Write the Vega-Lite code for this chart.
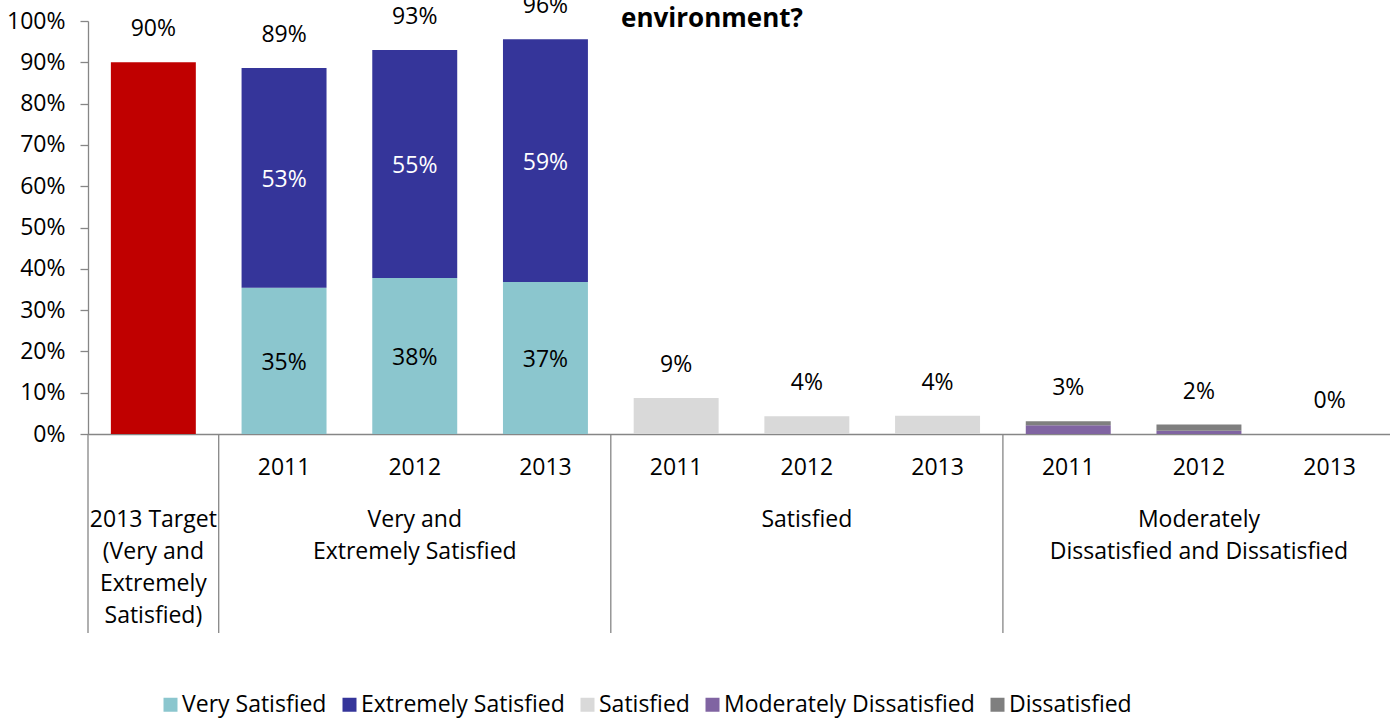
{
  "$schema": "https://vega.github.io/schema/vega-lite/v6.json",
  "autosize": {"type": "none"},
  "padding": {"left": 88, "top": 21, "right": 0, "bottom": 285},
  "width": 1302,
  "height": 413,
  "background": "white",
  "config": {"font": "Open Sans", "view": {"stroke": null}},
  "title": {"text": "environment?", "fontSize": 26, "fontWeight": "bold", "font": "Open Sans", "color": "#000000", "anchor": "middle", "frame": "group", "offset": 0, "baseline": "alphabetic", "dx": -27, "dy": 58},
  "datasets": {
    "bars": [
      {"cat": "Target", "series": "Target", "value": 0.90},
      {"cat": "Very and Extremely Satisfied|2011", "series": "Very Satisfied", "value": 0.354},
      {"cat": "Very and Extremely Satisfied|2011", "series": "Extremely Satisfied", "value": 0.532},
      {"cat": "Very and Extremely Satisfied|2012", "series": "Very Satisfied", "value": 0.378},
      {"cat": "Very and Extremely Satisfied|2012", "series": "Extremely Satisfied", "value": 0.552},
      {"cat": "Very and Extremely Satisfied|2013", "series": "Very Satisfied", "value": 0.368},
      {"cat": "Very and Extremely Satisfied|2013", "series": "Extremely Satisfied", "value": 0.588},
      {"cat": "Satisfied|2011", "series": "Satisfied", "value": 0.087},
      {"cat": "Satisfied|2012", "series": "Satisfied", "value": 0.043},
      {"cat": "Satisfied|2013", "series": "Satisfied", "value": 0.044},
      {"cat": "Moderately Dissatisfied and Dissatisfied|2011", "series": "Moderately Dissatisfied", "value": 0.021},
      {"cat": "Moderately Dissatisfied and Dissatisfied|2011", "series": "Dissatisfied", "value": 0.010},
      {"cat": "Moderately Dissatisfied and Dissatisfied|2012", "series": "Moderately Dissatisfied", "value": 0.008},
      {"cat": "Moderately Dissatisfied and Dissatisfied|2012", "series": "Dissatisfied", "value": 0.015},
      {"cat": "Moderately Dissatisfied and Dissatisfied|2013", "series": "Moderately Dissatisfied", "value": 0.0},
      {"cat": "Moderately Dissatisfied and Dissatisfied|2013", "series": "Dissatisfied", "value": 0.0}
    ],
    "groups": [
      {"cat": "Target", "label": "2013 Target\n(Very and\nExtremely\nSatisfied)"},
      {"cat": "Very and Extremely Satisfied|2012", "label": "Very and\nExtremely Satisfied"},
      {"cat": "Satisfied|2012", "label": "Satisfied"},
      {"cat": "Moderately Dissatisfied and Dissatisfied|2012", "label": "Moderately\nDissatisfied and Dissatisfied"}
    ],
    "seps": [
      {"cat": "Target"},
      {"cat": "Very and Extremely Satisfied|2011"},
      {"cat": "Satisfied|2011"},
      {"cat": "Moderately Dissatisfied and Dissatisfied|2011"}
    ]
  },
  "encoding": {
    "x": {
      "field": "cat", "type": "nominal",
      "scale": {
        "domain": ["Target", "Very and Extremely Satisfied|2011", "Very and Extremely Satisfied|2012", "Very and Extremely Satisfied|2013", "Satisfied|2011", "Satisfied|2012", "Satisfied|2013", "Moderately Dissatisfied and Dissatisfied|2011", "Moderately Dissatisfied and Dissatisfied|2012", "Moderately Dissatisfied and Dissatisfied|2013"],
        "range": [0, 1307], "paddingInner": 0.35, "paddingOuter": 0.175
      },
      "axis": {
        "title": null,
        "labelExpr": "indexof('' + datum.value, '|') >= 0 ? split('' + datum.value, '|')[1] : ''",
        "labelFontSize": 23, "labelFont": "Open Sans", "labelColor": "#000000", "labelAngle": 0,
        "labelPadding": 22, "ticks": false,
        "domainColor": "#868686", "domainWidth": 1.3
      }
    }
  },
  "layer": [
    {
      "data": {"name": "bars"},
      "transform": [{"calculate": "indexof(['Target','Very Satisfied','Extremely Satisfied','Satisfied','Moderately Dissatisfied','Dissatisfied'], datum.series)", "as": "ord"}],
      "mark": {"type": "bar"},
      "encoding": {
        "y": {
          "field": "value", "type": "quantitative", "stack": "zero",
          "scale": {"domain": [0, 1], "nice": false},
          "axis": {"title": null, "format": ".0%", "values": [0, 0.1, 0.2, 0.3, 0.4, 0.5, 0.6, 0.7, 0.8, 0.9, 1.0], "labelFontSize": 23, "labelFont": "Open Sans", "labelColor": "#000000", "labelPadding": 15, "tickSize": 8, "tickColor": "#868686", "tickWidth": 1.3, "domainColor": "#868686", "domainWidth": 1.3, "grid": false}
        },
        "color": {
          "field": "series", "type": "nominal",
          "scale": {"domain": ["Target", "Very Satisfied", "Extremely Satisfied", "Satisfied", "Moderately Dissatisfied", "Dissatisfied"], "range": ["#C00000", "#8BC6CE", "#35359A", "#D9D9D9", "#8064A2", "#7F7F7F"]},
          "legend": {"title": null, "orient": "none", "legendX": 71, "legendY": 672, "direction": "horizontal", "values": ["Very Satisfied", "Extremely Satisfied", "Satisfied", "Moderately Dissatisfied", "Dissatisfied"], "symbolType": "square", "symbolSize": 196, "symbolStrokeWidth": 0, "symbolOpacity": 1, "labelFontSize": 23, "labelFont": "Open Sans", "labelColor": "#000000", "columnPadding": 11, "labelOffset": 0, "labelLimit": 400}
        },
        "order": {"field": "ord"}
      }
    },
    {
      "data": {"name": "seps"},
      "mark": {"type": "rule", "color": "#868686", "strokeWidth": 1.3},
      "encoding": {
        "x": {"field": "cat", "type": "nominal", "bandPosition": -0.2692},
        "y": {"datum": 0, "type": "quantitative"},
        "y2": {"datum": -0.482}
      }
    },
    {
      "data": {"name": "bars"},
      "transform": [
        {"filter": "datum.series == 'Very Satisfied' || datum.series == 'Extremely Satisfied'"},
        {"calculate": "datum.series == 'Very Satisfied' ? 0 : 1", "as": "ord"},
        {"stack": "value", "groupby": ["cat"], "sort": [{"field": "ord"}], "as": ["v0", "v1"]},
        {"calculate": "(datum.v0 + datum.v1) / 2", "as": "mid"}
      ],
      "mark": {"type": "text", "fontSize": 23, "baseline": "middle", "dy": 2},
      "encoding": {
        "y": {"field": "mid", "type": "quantitative"},
        "text": {"field": "value", "type": "quantitative", "format": ".0%"},
        "color": {"condition": {"test": "datum.series == 'Extremely Satisfied'", "value": "#FFFFFF"}, "value": "#000000"}
      }
    },
    {
      "data": {"name": "bars"},
      "transform": [{"aggregate": [{"op": "sum", "field": "value", "as": "total"}], "groupby": ["cat"]}],
      "mark": {"type": "text", "fontSize": 23, "baseline": "middle", "dy": -33, "color": "#000000"},
      "encoding": {
        "y": {"field": "total", "type": "quantitative"},
        "text": {"field": "total", "type": "quantitative", "format": ".0%"}
      }
    },
    {
      "data": {"name": "groups"},
      "mark": {"type": "text", "fontSize": 23, "baseline": "top", "lineBreak": "\n", "lineHeight": 32, "dy": 75, "color": "#000000"},
      "encoding": {
        "y": {"datum": 0, "type": "quantitative"},
        "text": {"field": "label"}
      }
    }
  ]
}
